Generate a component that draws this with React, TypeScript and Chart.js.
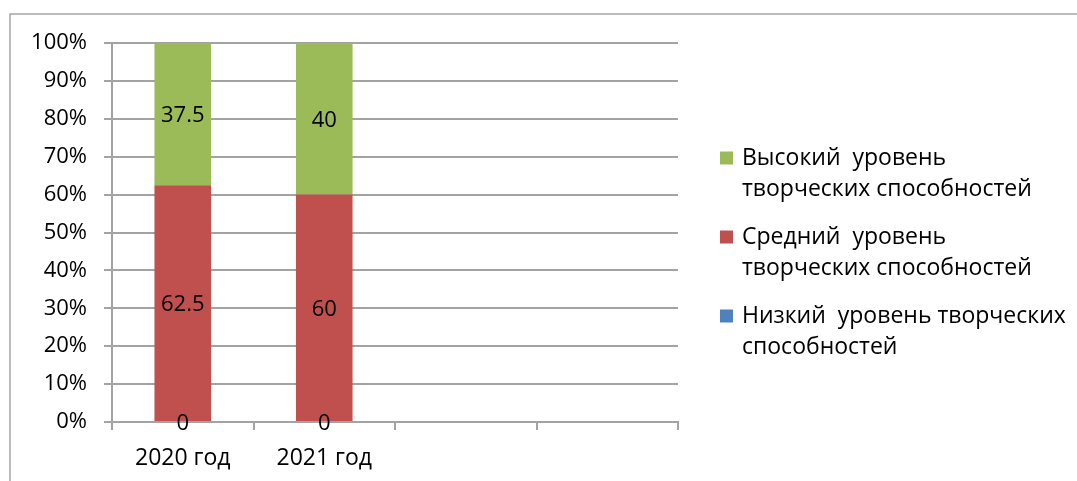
import React, { useEffect, useRef } from "react";
import { Chart, registerables } from "chart.js";

Chart.register(...registerables);

const categories = ["2020 год", "2021 год", "", ""];
const lowValues = [0, 0];
const midValues = [62.5, 60];
const highValues = [37.5, 40];
const seriesNames = [
  "Низкий  уровень творческих способностей",
  "Средний  уровень творческих способностей",
  "Высокий  уровень творческих способностей",
];
const legendLines = [
  ["Высокий  уровень", "творческих способностей"],
  ["Средний  уровень", "творческих способностей"],
  ["Низкий  уровень творческих", "способностей"],
];
const legendColors = ["#9BBB59", "#C0504D", "#4F81BD"];
const yTicks = [0, 10, 20, 30, 40, 50, 60, 70, 80, 90, 100];

const FONT = "'Open Sans', sans-serif";
const GRID = "#a3a3a3";

export default function App() {
  const ref = useRef<HTMLCanvasElement | null>(null);
  useEffect(() => {
    if (!ref.current) return;
    const framePlugin = {
      id: "frame",
      beforeDraw(chart: any) {
        const ctx = chart.ctx;
        ctx.save();
        ctx.strokeStyle = "#a6a6a6";
        ctx.lineWidth = 1.5;
        ctx.beginPath();
        ctx.moveTo(10, chart.height);
        ctx.lineTo(10, 14);
        ctx.lineTo(chart.width, 14);
        ctx.stroke();
        ctx.restore();
      },
    };
    const labelPlugin = {
      id: "vals",
      afterDatasetsDraw(chart: any) {
        const ctx = chart.ctx;
        ctx.save();
        ctx.font = `22px ${FONT}`;
        ctx.fillStyle = "#000";
        ctx.textAlign = "center";
        ctx.textBaseline = "middle";
        chart.data.datasets.forEach((ds: any, i: number) => {
          const meta = chart.getDatasetMeta(i);
          meta.data.forEach((el: any, j: number) => {
            const v = ds.data[j];
            if (v === undefined || v === null) return;
            ctx.fillText(String(v), el.x, (el.y + el.base) / 2 + 2);
          });
        });
        ctx.restore();
      },
    };
    const legendPlugin = {
      id: "customLegend",
      afterDraw(chart: any) {
        const ctx = chart.ctx;
        ctx.save();
        ctx.font = `23px ${FONT}`;
        ctx.fillStyle = "#000";
        ctx.textBaseline = "middle";
        ctx.textAlign = "left";
        const starts = [158, 237, 316];
        legendLines.forEach((lines, i) => {
          ctx.fillStyle = legendColors[i];
          ctx.fillRect(720, starts[i] - 6.5, 13, 13);
          ctx.fillStyle = "#000";
          lines.forEach((ln, k) => {
            ctx.fillText(ln, 742, starts[i] + k * 31);
          });
        });
        ctx.restore();
      },
    };
    const chart = new Chart(ref.current, {
      type: "bar",
      data: {
        labels: categories,
        datasets: [
          { label: seriesNames[0], data: lowValues, backgroundColor: "#4F81BD" },
          { label: seriesNames[1], data: midValues, backgroundColor: "#C0504D" },
          { label: seriesNames[2], data: highValues, backgroundColor: "#9BBB59" },
        ],
      },
      options: {
        animation: false,
        responsive: true,
        maintainAspectRatio: false,
        datasets: { bar: { categoryPercentage: 1, barPercentage: 0.4 } },
        layout: { padding: { left: 0, top: 43, right: 399, bottom: 0 } },
        plugins: { legend: { display: false }, tooltip: { enabled: false } },
        scales: {
          x: {
            stacked: true,
            grid: { drawOnChartArea: false, drawTicks: true, tickLength: 8, color: GRID, lineWidth: 2 },
            border: { color: GRID, width: 2 },
            ticks: { font: { family: FONT, size: 23 }, color: "#000", padding: 15, maxRotation: 0, autoSkip: false },
            afterFit(scale: any) {
              scale.height = 59;
            },
          },
          y: {
            stacked: true,
            min: 0,
            max: 100,
            afterBuildTicks(scale: any) {
              scale.ticks = yTicks.map((v) => ({ value: v }));
            },
            grid: { color: GRID, lineWidth: 2, tickLength: 8 },
            border: { color: GRID, width: 2 },
            ticks: {
              font: { family: FONT, size: 22 },
              color: "#000",
              padding: 17,
              callback: (v: any) => v + "%",
            },
            afterFit(scale: any) {
              scale.width = 112;
            },
          },
        },
      },
      plugins: [framePlugin, labelPlugin, legendPlugin],
    });
    return () => chart.destroy();
  }, []);
  return (
    <div style={{ position: "absolute", left: 0, top: 0, width: 1077, height: 481, background: "#fff" }}>
      <canvas ref={ref} />
    </div>
  );
}
